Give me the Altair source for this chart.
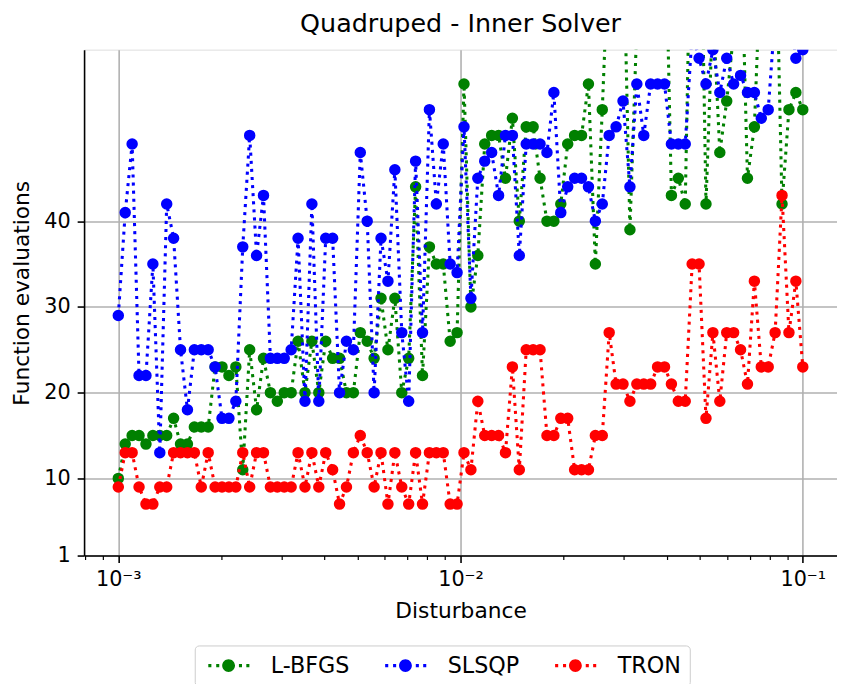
import altair as alt
import numpy as np
import pandas as pd

# ---- data ----
disturbance = np.logspace(-3, -1, 100)

lbfgs = [10, 14, 15, 15, 14, 15, 15, 15, 17, 14,
         14, 16, 16, 16, 23, 23, 22, 23, 11, 25,
         18, 24, 20, 19, 20, 20, 26, 20, 26, 20,
         26, 24, 24, 20, 20, 27, 26, 24, 31, 25,
         31, 20, 24, 44, 22, 37, 35, 35, 26, 27,
         56, 30, 36, 49, 50, 50, 45, 52, 40, 51,
         51, 45, 40, 40, 42, 49, 50, 50, 56, 35,
         53, 73, 70, 75, 39, 63, 70, 70, 70, 80,
         43, 45, 42, 85, 90, 42, 65, 48, 54, 62,
         76, 45, 51, 72, 70, 78, 42, 53, 55, 53]

slsqp = [29, 41, 49, 22, 22, 35, 13, 42, 38, 25,
         18, 25, 25, 25, 23, 17, 17, 19, 37, 50,
         36, 43, 24, 24, 24, 25, 38, 19, 42, 19,
         38, 38, 20, 26, 25, 48, 40, 20, 38, 33,
         46, 27, 19, 47, 27, 53, 42, 49, 35, 34,
         51, 31, 45, 47, 48, 43, 50, 50, 36, 49,
         49, 49, 48, 55, 41, 44, 45, 45, 44, 40,
         42, 50, 51, 54, 44, 56, 50, 56, 56, 56,
         49, 49, 49, 62, 59, 56, 60, 55, 59, 56,
         57, 55, 55, 52, 53, 64, 65, 65, 59, 60]

tron = [9, 13, 13, 9, 7, 7, 9, 9, 13, 13,
        13, 13, 9, 13, 9, 9, 9, 9, 13, 9,
        13, 13, 9, 9, 9, 9, 13, 9, 13, 9,
        13, 11, 7, 9, 13, 15, 13, 9, 13, 7,
        13, 9, 7, 13, 7, 13, 13, 13, 7, 7,
        13, 11, 19, 15, 15, 15, 13, 23, 11, 25,
        25, 25, 15, 15, 17, 17, 11, 11, 11, 15,
        15, 27, 21, 21, 19, 21, 21, 21, 23, 23,
        21, 19, 19, 35, 35, 17, 27, 19, 27, 27,
        25, 21, 33, 23, 23, 27, 43, 27, 33, 23]

solver_names = ["L-BFGS", "SLSQP", "TRON"]
solver_colors = ["#008000", "#0000ff", "#ff0000"]
y_tick_values = [1, 10, 20, 30, 40]
x_tick_values = [8e-4, 9e-4,
                 1e-3, 2e-3, 3e-3, 4e-3, 5e-3, 6e-3, 7e-3, 8e-3, 9e-3,
                 1e-2, 2e-2, 3e-2, 4e-2, 5e-2, 6e-2, 7e-2, 8e-2, 9e-2,
                 1e-1]

frames = []
for name, vals in zip(solver_names, [lbfgs, slsqp, tron]):
    frames.append(pd.DataFrame({
        "idx": np.arange(len(vals)),
        "disturbance": disturbance,
        "evaluations": vals,
        "solver": name,
    }))
df = pd.concat(frames, ignore_index=True)

FONT = "DejaVu Sans"
LBL = 21
TTL = 22
is_major = "abs(log(datum.value)/LN10 - round(log(datum.value)/LN10)) < 0.001"
exp_expr = "round(log(datum.value)/LN10)"
label_expr = (f"({is_major}) ? ('10' + ({exp_expr} == -3 ? '⁻³' : "
              f"{exp_expr} == -2 ? '⁻²' : '⁻¹')) : ''")

x_scale = alt.Scale(type="log", domain=[10 ** -3.1, 10 ** -0.9], nice=False)
y_scale = alt.Scale(domain=[1, 60], nice=False, zero=False)

x_axis = alt.Axis(
    values=x_tick_values,
    labelExpr=label_expr,
    grid=True,
    gridColor="#b0b0b0",
    gridWidth=1.6,
    gridOpacity={"condition": {"test": is_major, "value": 1}, "value": 0},
    tickSize={"condition": {"test": is_major, "value": 7}, "value": 4},
    tickWidth={"condition": {"test": is_major, "value": 1.6}, "value": 1.2},
    tickColor="black",
    domainColor="black",
    domainWidth=1.6,
    labelFont=FONT,
    labelFontSize=LBL,
    labelColor="black",
    labelPadding=6,
    labelFlush=False,
    labelOverlap=False,
    labelBound=False,
    titleFont=FONT,
    titleFontSize=TTL,
    titleFontWeight="normal",
    titleColor="black",
    titlePadding=12,
)

y_axis = alt.Axis(
    values=y_tick_values,
    grid=True,
    gridColor="#b0b0b0",
    gridWidth=1.6,
    tickSize=7,
    tickWidth=1.6,
    tickColor="black",
    domainColor="black",
    domainWidth=1.6,
    labelFont=FONT,
    labelFontSize=LBL,
    labelColor="black",
    labelPadding=7,
    labelFlush=False,
    labelOverlap=False,
    titleFont=FONT,
    titleFontSize=TTL,
    titleFontWeight="normal",
    titleColor="black",
    titlePadding=11,
    titleY=246,
)

# legend symbol: dotted line with a round marker in the middle
u_dots = [-2.92, -1.69, 1.85, 3.0]
sym_parts = [f"M{c - 0.24:.2f},-0.24h0.48v0.48h-0.48Z" for c in u_dots]
sym_parts.append("M-1,0A1,1,0,1,1,1,0A1,1,0,1,1,-1,0Z")
symbol_path = " ".join(sym_parts)

legend = alt.Legend(
    orient="none",
    legendX=112,
    legendY=603,
    direction="horizontal",
    columns=3,
    title=None,
    symbolType=symbol_path,
    symbolSize=169,
    symbolStrokeWidth=0,
    symbolOpacity=1,
    symbolOffset=14,
    labelOffset=31.5,
    labelFont=FONT,
    labelFontSize=22.5,
    labelColor="black",
    columnPadding=31,
    padding=9,
    strokeColor="#cccccc",
    fillColor="white",
    cornerRadius=4,
)

layers = []
for name, color in zip(solver_names, solver_colors):
    base = alt.Chart(df).transform_filter(alt.datum.solver == name)
    line = base.mark_line(
        color=color, strokeWidth=3.1, strokeDash=[3.1, 5.1],
        strokeCap="butt", clip=True,
    ).encode(
        x=alt.X("disturbance:Q", scale=x_scale, axis=x_axis, title="Disturbance"),
        y=alt.Y("evaluations:Q", scale=y_scale, axis=y_axis,
                title="Function evaluations"),
        order="idx:Q",
    )
    pts = base.mark_circle(size=135, opacity=1, clip=True).encode(
        x=alt.X("disturbance:Q", scale=x_scale, axis=x_axis, title="Disturbance"),
        y=alt.Y("evaluations:Q", scale=y_scale, axis=y_axis,
                title="Function evaluations"),
        color=alt.Color("solver:N",
                        scale=alt.Scale(domain=solver_names, range=solver_colors),
                        legend=legend),
    )
    layers += [line, pts]

chart = alt.layer(*layers).properties(
    width=762,
    height=512,
    title=alt.TitleParams(
        "Quadruped - Inner Solver",
        font=FONT, fontSize=25.7, fontWeight="normal", color="black",
        anchor="middle", frame="group", baseline="alphabetic", offset=14,
        dy=22,
    ),
    autosize=alt.AutoSizeParams(type="none"),
    padding={"left": 77, "top": 38, "right": 0, "bottom": 140},
).configure_view(
    stroke="black", strokeWidth=1.6,
).configure(
    background="white",
)

chart.save("out.html", embed_options={"renderer": "svg", "actions": False})
